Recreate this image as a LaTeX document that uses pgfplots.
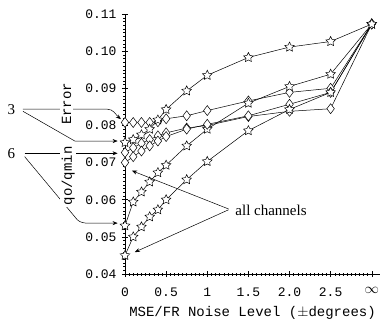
\documentclass[border=0pt]{standalone}
\usepackage{fontspec}
\setmainfont{Liberation Serif}
\setmonofont{Liberation Mono}
\usepackage{pgfplots}
\usepackage{pgfplotstable}
\usetikzlibrary{arrows.meta}
\pgfplotsset{compat=1.18}

\pgfdeclareplotmark{ostar}{%
  \pgfpathmoveto{\pgfqpointpolar{90}{\pgfplotmarksize}}%
  \pgfpathlineto{\pgfqpointpolar{126}{0.5\pgfplotmarksize}}%
  \pgfpathlineto{\pgfqpointpolar{162}{\pgfplotmarksize}}%
  \pgfpathlineto{\pgfqpointpolar{198}{0.5\pgfplotmarksize}}%
  \pgfpathlineto{\pgfqpointpolar{234}{\pgfplotmarksize}}%
  \pgfpathlineto{\pgfqpointpolar{270}{0.5\pgfplotmarksize}}%
  \pgfpathlineto{\pgfqpointpolar{306}{\pgfplotmarksize}}%
  \pgfpathlineto{\pgfqpointpolar{342}{0.5\pgfplotmarksize}}%
  \pgfpathlineto{\pgfqpointpolar{18}{\pgfplotmarksize}}%
  \pgfpathlineto{\pgfqpointpolar{54}{0.5\pgfplotmarksize}}%
  \pgfpathclose
  \pgfusepathqfillstroke
}

% x = 3 stands for infinity
\pgfplotstableread{
x    d1     s1     d2     s2     d3     s3
0    0.0808 0.0754 0.0727 0.0530 0.0700 0.0450
0.1  0.0808 0.0762 0.0740 0.0594 0.0716 0.0500
0.2  0.0808 0.0775 0.0752 0.0621 0.0731 0.0527
0.3  0.0808 0.0790 0.0762 0.0648 0.0745 0.0554
0.4  0.0810 0.0815 0.0772 0.0673 0.0758 0.0573
0.5  0.0818 0.0843 0.0780 0.0693 0.0770 0.0600
0.75 0.0826 0.0893 0.0793 0.0745 0.0790 0.0654
1    0.0840 0.0935 0.0800 0.0790 0.0803 0.0703
1.5  0.0866 0.0983 0.0824 0.0860 0.0826 0.0786
2    0.0889 0.1011 0.0838 0.0905 0.0857 0.0843
2.5  0.0900 0.1026 0.0845 0.0938 0.0889 0.0889
3    0.1073 0.1073 0.1073 0.1073 0.1073 0.1073
}\data

\begin{document}
\begin{tikzpicture}
\path[use as bounding box] (-125pt,-51pt) rectangle (261pt,274pt);
\begin{axis}[
  scale only axis, width=255pt, height=260pt,
  xmin=0, xmax=3.1, ymin=0.04, ymax=0.11,
  axis x line=bottom, axis y line=left,
  axis line style={-, line width=0.6pt},
  clip=false,
  xtick={0,0.5,1,1.5,2,2.5,3},
  xticklabels={0,0.5,1,1.5,2.0,2.5,{\Large$\infty$}},
  ytick={0.04,0.05,0.06,0.07,0.08,0.09,0.10,0.11},
  yticklabels={0.04,0.05,0.06,0.07,0.08,0.09,0.10,0.11},
  minor x tick num=9,
  minor y tick num=9,
  tick align=center,
  major tick length=6pt, minor tick length=3pt,
  tick style={line width=0.5pt, black},
  minor tick style={line width=0.4pt},
  ticklabel style={font=\fontsize{13}{13}\selectfont\ttfamily},
  xticklabel style={yshift=-7pt},
  yticklabel style={xshift=-2pt},
  xlabel={MSE/FR Noise Level ($\pm$degrees)},
  xlabel style={at={(rel axis cs:0.5,0)}, anchor=center, yshift=-39pt,
    font=\fontsize{14}{14}\selectfont\ttfamily},
  every axis plot/.append style={black, line width=0.5pt,
    mark size=5pt, mark options={fill=white, solid, line width=0.5pt}},
]
\addplot[mark=diamond*] table[x=x, y=d1] {\data};
\addplot[mark=ostar]   table[x=x, y=s1] {\data};
\addplot[mark=diamond*] table[x=x, y=d2] {\data};
\addplot[mark=ostar]   table[x=x, y=s2] {\data};
\addplot[mark=diamond*] table[x=x, y=d3] {\data};
\addplot[mark=ostar]   table[x=x, y=s3] {\data};

% annotation lines on the left
\draw[line width=0.5pt, -{Stealth[length=5pt,width=4pt]}]
  (axis cs:-1.24,0.0844) -- (axis cs:-0.22,0.0844)
  to[out=0,in=140] (axis cs:-0.05,0.0817);
\draw[line width=0.5pt, -{Stealth[length=5pt,width=4pt]}]
  (axis cs:-1.24,0.0838) -- (axis cs:-0.61,0.0758) -- (axis cs:-0.09,0.0758);
\draw[line width=0.5pt, -{Stealth[length=5pt,width=4pt]}]
  (axis cs:-1.22,0.0725) -- (axis cs:-0.09,0.0725);
\draw[line width=0.5pt, -{Stealth[length=5pt,width=4pt]}]
  (axis cs:-1.22,0.0716) -- (axis cs:-0.58,0.0546)
  to[out=-40,in=180] (axis cs:-0.45,0.0537) -- (axis cs:-0.09,0.0537);

\node[font=\fontsize{15}{15}\selectfont] at (axis cs:-1.38,0.0843) {3};
\node[font=\fontsize{15}{15}\selectfont] at (axis cs:-1.38,0.0725) {6};
\node[rotate=90, fill=white, inner sep=1.5pt,
  font=\fontsize{14}{14}\selectfont\ttfamily] at (axis cs:-0.71,0.0858) {Error};
\node[rotate=90, fill=white, inner sep=1.5pt,
  font=\fontsize{14}{14}\selectfont\ttfamily] at (axis cs:-0.69,0.0664) {qo/qmin};

% all channels
\draw[line width=0.5pt, -{Stealth[length=5pt,width=4pt]}]
  (axis cs:1.26,0.0575) -- (axis cs:0.085,0.0678);
\draw[line width=0.5pt, -{Stealth[length=5pt,width=4pt]}]
  (axis cs:1.26,0.0573) -- (axis cs:0.12,0.0459);
\node[font=\fontsize{15}{15}\selectfont, anchor=west, inner sep=0pt] at (axis cs:1.34,0.0570) {all channels};
\end{axis}
\end{tikzpicture}
\end{document}
